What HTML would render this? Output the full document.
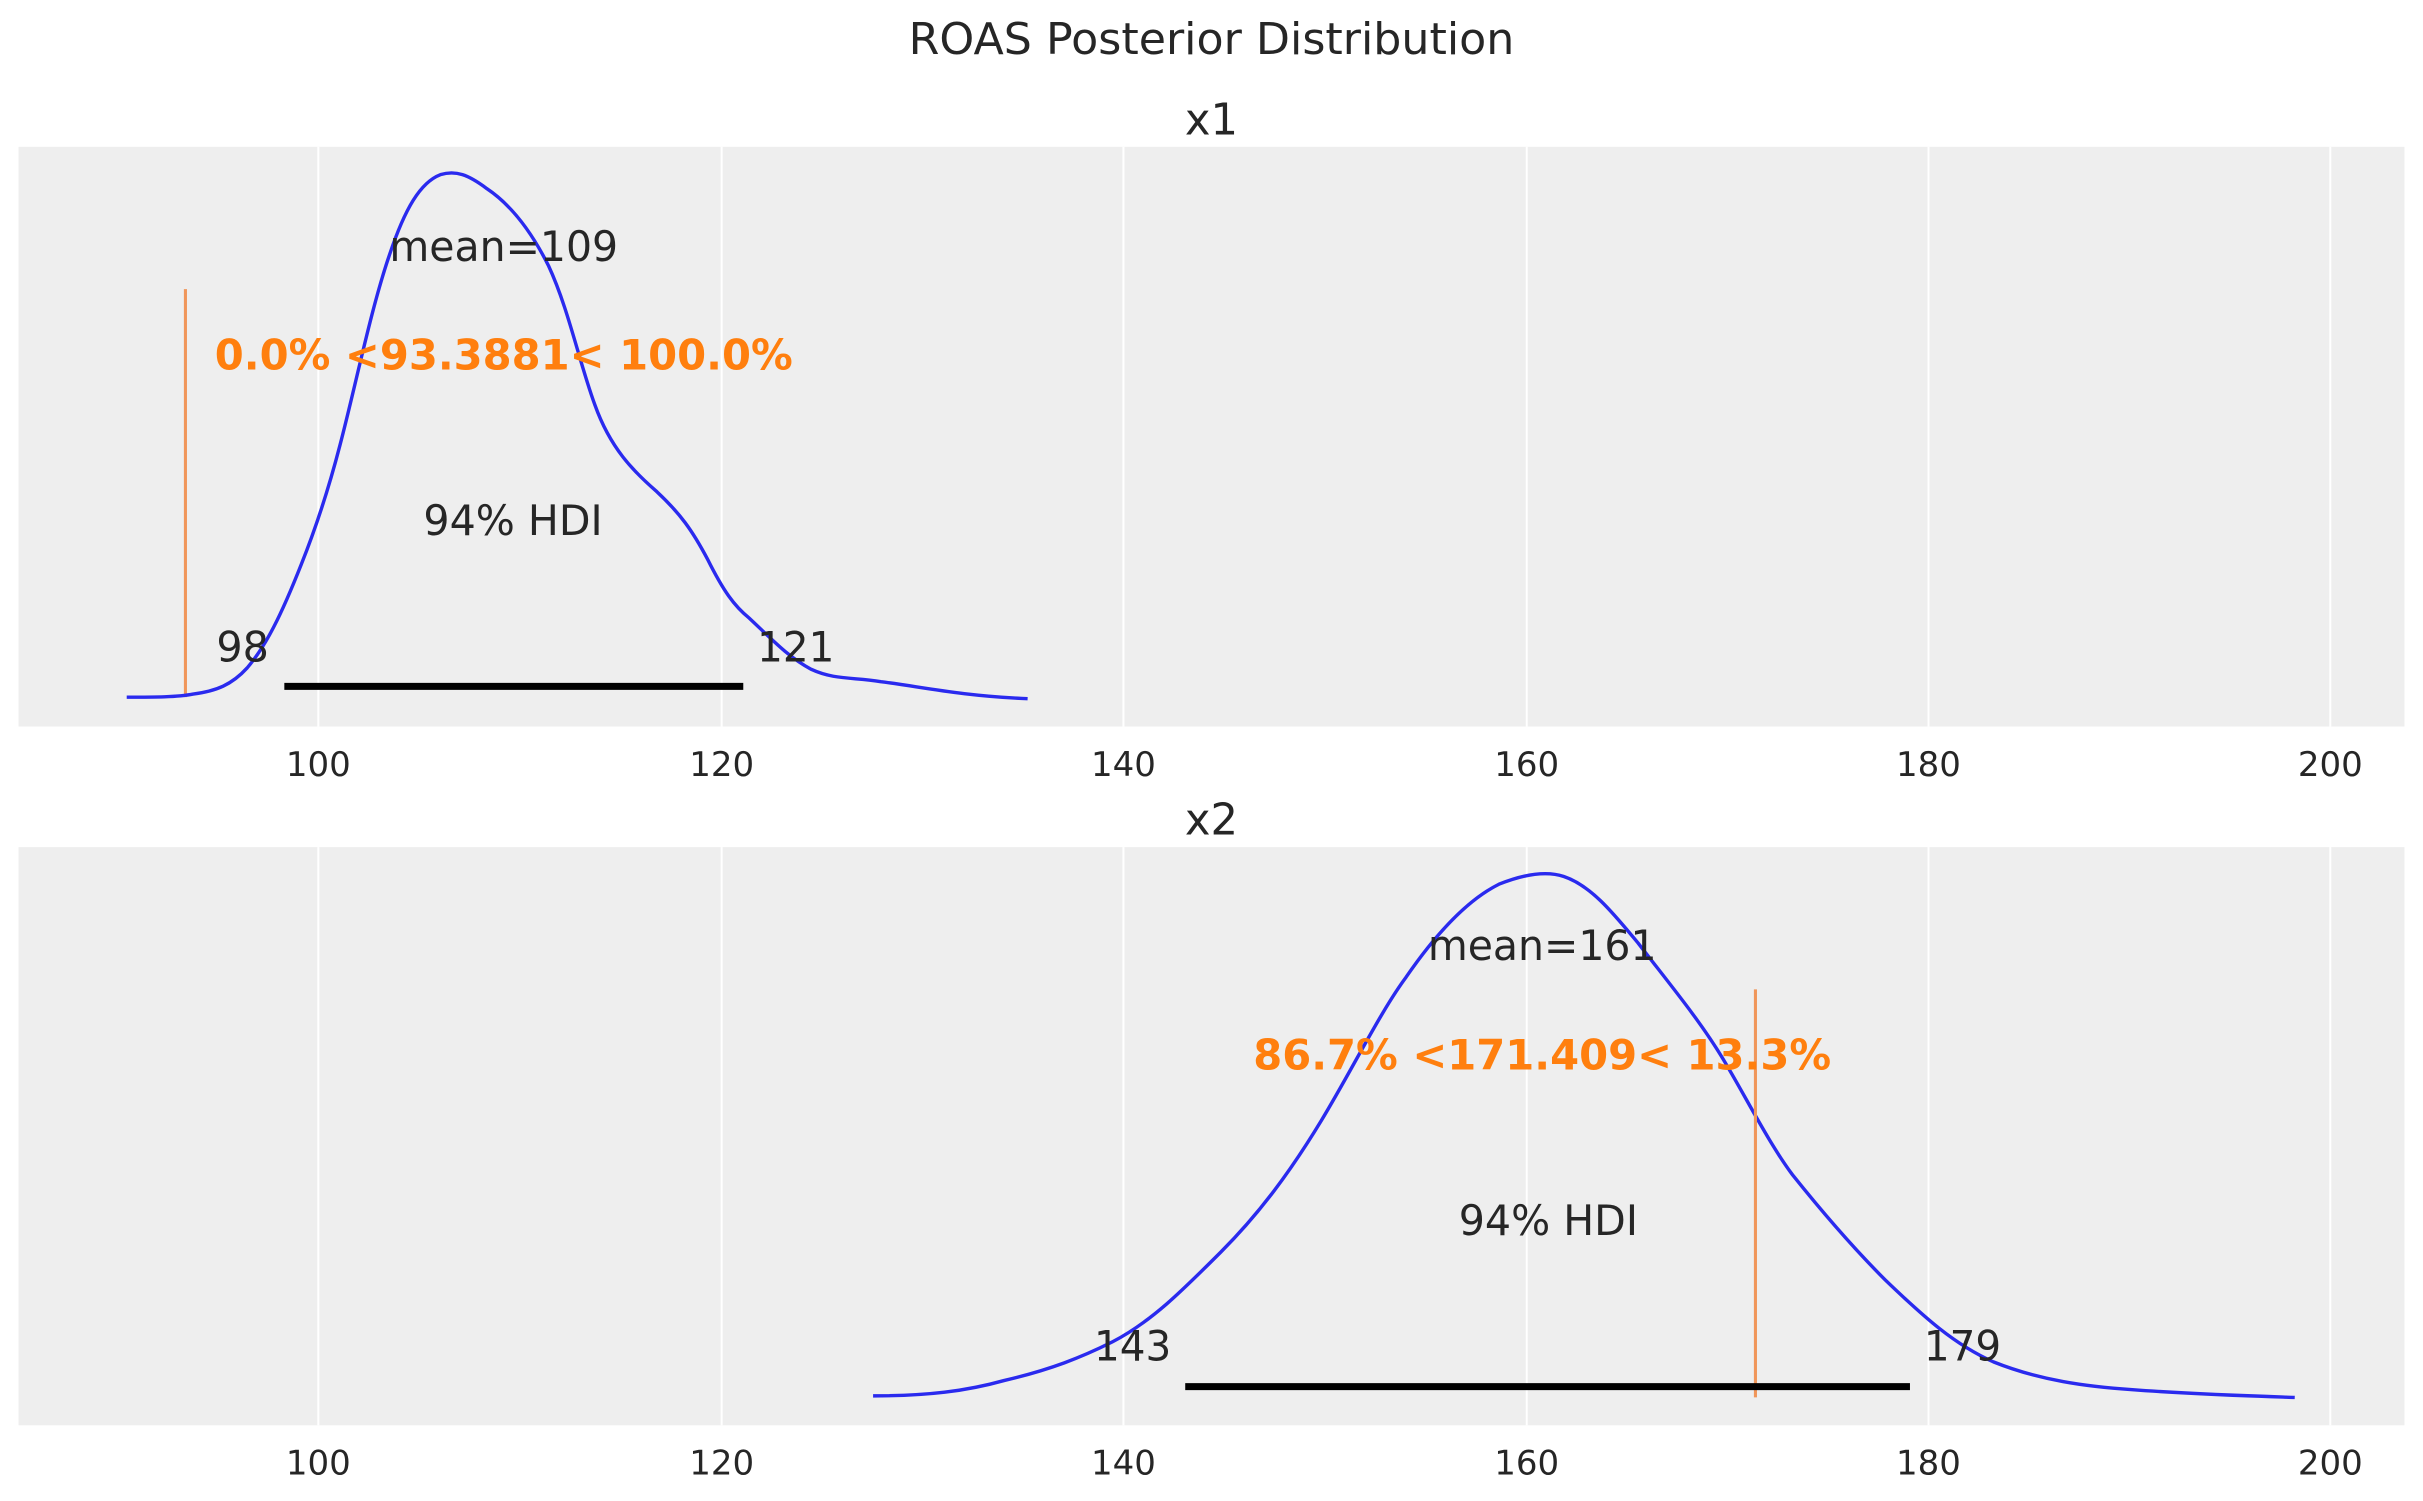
<!DOCTYPE html>
<html><head><style>html,body{margin:0;padding:0;background:#fff}svg{display:block}</style></head>
<body>
<svg width="2423" height="1501" viewBox="0 0 1568 971" preserveAspectRatio="none" xmlns="http://www.w3.org/2000/svg" font-family="DejaVu Sans, Liberation Sans, sans-serif">
<rect width="1568" height="971" fill="#fff"/>
<text x="784" y="35" font-size="28" text-anchor="middle" fill="#262626" textLength="392" lengthAdjust="spacingAndGlyphs">ROAS Posterior Distribution</text>
<text x="784" y="87" font-size="28" text-anchor="middle" fill="#262626">x1</text>
<rect x="12" y="95" width="1544" height="375" fill="#eeeeee"/>
<g stroke="#fff" stroke-width="1.3">
<line x1="206" y1="95" x2="206" y2="470"/><line x1="467" y1="95" x2="467" y2="470"/><line x1="727" y1="95" x2="727" y2="470"/><line x1="988" y1="95" x2="988" y2="470"/><line x1="1248" y1="95" x2="1248" y2="470"/><line x1="1508" y1="95" x2="1508" y2="470"/>
</g>
<line x1="120" y1="187" x2="120" y2="451" stroke="#f0965a" stroke-width="2"/>
<path d="M82,451 C100,451 115,451 125,449 C140,447 150,443 160,432 C172,418 182,398 195,365 C205,340 213,315 220,288 C230,250 240,200 252,165 C262,135 272,118 285,113 C295,110 303,113 315,122 C330,132 343,148 355,172 C368,200 375,235 385,262 C395,290 410,305 425,318 C440,332 448,343 458,362 C468,382 475,392 485,400 C500,414 510,425 525,433 C540,440 553,438 570,441 C595,444 620,450 665,452" fill="none" stroke="#2a2aee" stroke-width="2.2"/>
<line x1="184" y1="444" x2="481" y2="444" stroke="#000" stroke-width="4.5"/>
<g font-size="27" fill="#262626">
<text x="326" y="169" text-anchor="middle" textLength="148" lengthAdjust="spacingAndGlyphs">mean=109</text>
<text x="332" y="346" text-anchor="middle" textLength="116" lengthAdjust="spacingAndGlyphs">94% HDI</text>
<text x="157" y="428" text-anchor="middle" textLength="34" lengthAdjust="spacingAndGlyphs">98</text>
<text x="515" y="428" text-anchor="middle" textLength="50" lengthAdjust="spacingAndGlyphs">121</text>
</g>
<text x="326" y="239" font-size="27" font-weight="bold" fill="#ff7f0e" text-anchor="middle" textLength="374" lengthAdjust="spacingAndGlyphs">0.0% &lt;93.3881&lt; 100.0%</text>
<g font-size="22" fill="#262626" text-anchor="middle">
<text x="206" y="502">100</text><text x="467" y="502">120</text><text x="727" y="502">140</text><text x="988" y="502">160</text><text x="1248" y="502">180</text><text x="1508" y="502">200</text>
</g>
<text x="784" y="540" font-size="28" text-anchor="middle" fill="#262626">x2</text>
<rect x="12" y="548" width="1544" height="374" fill="#eeeeee"/>
<g stroke="#fff" stroke-width="1.3">
<line x1="206" y1="548" x2="206" y2="922"/><line x1="467" y1="548" x2="467" y2="922"/><line x1="727" y1="548" x2="727" y2="922"/><line x1="988" y1="548" x2="988" y2="922"/><line x1="1248" y1="548" x2="1248" y2="922"/><line x1="1508" y1="548" x2="1508" y2="922"/>
</g>
<path d="M565,903 C600,903 625,900 650,893 C680,886 700,878 720,868 C745,855 765,835 790,810 C815,785 835,758 855,725 C875,692 893,655 910,632 C930,603 950,582 970,572 C985,566 1000,563 1012,567 C1030,573 1045,592 1060,610 C1080,636 1100,660 1115,685 C1130,710 1145,740 1160,760 C1180,785 1200,808 1220,828 C1245,852 1265,870 1290,881 C1320,893 1350,897 1380,899 C1420,902 1455,903 1485,904" fill="none" stroke="#2a2aee" stroke-width="2.2"/>
<line x1="1136" y1="640" x2="1136" y2="904" stroke="#f0965a" stroke-width="2"/>
<line x1="767" y1="897" x2="1236" y2="897" stroke="#000" stroke-width="4.5"/>
<g font-size="27" fill="#262626">
<text x="998" y="621" text-anchor="middle" textLength="148" lengthAdjust="spacingAndGlyphs">mean=161</text>
<text x="1002" y="799" text-anchor="middle" textLength="116" lengthAdjust="spacingAndGlyphs">94% HDI</text>
<text x="733" y="880" text-anchor="middle" textLength="50" lengthAdjust="spacingAndGlyphs">143</text>
<text x="1270" y="880" text-anchor="middle" textLength="50" lengthAdjust="spacingAndGlyphs">179</text>
</g>
<text x="998" y="692" font-size="27" font-weight="bold" fill="#ff7f0e" text-anchor="middle" textLength="374" lengthAdjust="spacingAndGlyphs">86.7% &lt;171.409&lt; 13.3%</text>
<g font-size="22" fill="#262626" text-anchor="middle">
<text x="206" y="954">100</text><text x="467" y="954">120</text><text x="727" y="954">140</text><text x="988" y="954">160</text><text x="1248" y="954">180</text><text x="1508" y="954">200</text>
</g>
</svg>
</body></html>
